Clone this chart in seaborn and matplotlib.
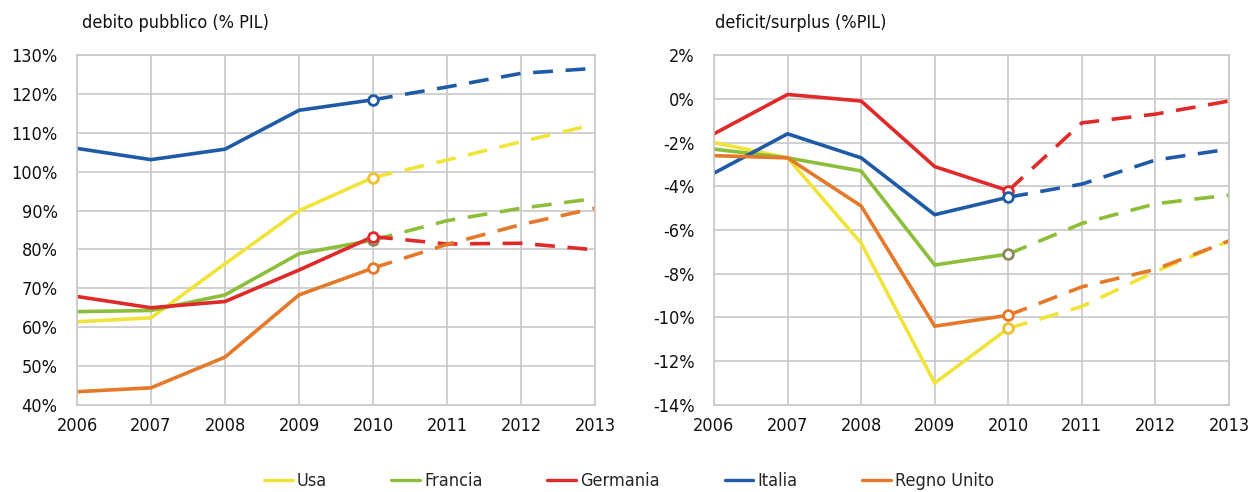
import numpy as np
import pandas as pd
import matplotlib
matplotlib.use("Agg")
import matplotlib.pyplot as plt
import seaborn as sns
from matplotlib.ticker import FuncFormatter, MultipleLocator
from matplotlib.lines import Line2D

sns.set_style("white")
plt.rcParams['font.family'] = ['DejaVu Sans']
plt.rcParams['font.stretch'] = 'condensed'

anni = [2006, 2007, 2008, 2009, 2010, 2011, 2012, 2013]
paesi = ['Usa', 'Francia', 'Germania', 'Italia', 'Regno Unito']
colori = ['#F0E43A', '#8DBE3A', '#E02A2A', '#1F5AA6', '#E5792A']
bordo_cerchio = ['#F0C030', '#8A8A5A', '#E02A2A', '#1F5AA6', '#E5792A']

# debito pubblico (% PIL)
debito_usa = [61.4, 62.4, 76.3, 90.0, 98.5, 103.0, 107.7, 112.2]
debito_francia = [64.0, 64.3, 68.3, 78.9, 82.4, 87.4, 90.6, 93.1]
debito_germania = [67.9, 65.0, 66.6, 74.7, 83.3, 81.4, 81.6, 79.9]
debito_italia = [106.0, 103.1, 105.8, 115.8, 118.5, 121.8, 125.3, 126.6]
debito_regno_unito = [43.4, 44.4, 52.3, 68.3, 75.2, 81.3, 86.4, 90.6]

# deficit/surplus (% PIL)
deficit_usa = [-2.0, -2.7, -6.6, -13.0, -10.5, -9.5, -7.9, -6.5]
deficit_francia = [-2.3, -2.7, -3.3, -7.6, -7.1, -5.7, -4.8, -4.4]
deficit_germania = [-1.6, 0.2, -0.1, -3.1, -4.2, -1.1, -0.7, -0.1]
deficit_italia = [-3.4, -1.6, -2.7, -5.3, -4.5, -3.9, -2.8, -2.3]
deficit_regno_unito = [-2.6, -2.7, -4.9, -10.4, -9.9, -8.6, -7.8, -6.5]

debito = [debito_usa, debito_francia, debito_germania, debito_italia, debito_regno_unito]
deficit = [deficit_usa, deficit_francia, deficit_germania, deficit_italia, deficit_regno_unito]

fig = plt.figure(figsize=(12.5, 4.92), dpi=100)
ax1 = fig.add_axes([0.0616, 0.177, 0.4144, 0.711])
ax2 = fig.add_axes([0.5712, 0.177, 0.4120, 0.711])

def disegna(ax, serie):
    for nome, valori, col, bc in zip(paesi, serie, colori, bordo_cerchio):
        df = pd.DataFrame({'anno': anni, 'valore': valori})
        storico = df[df.anno <= 2010]
        previsione = df[df.anno >= 2010]
        sns.lineplot(data=storico, x='anno', y='valore', ax=ax, color=col,
                     linewidth=2.6, solid_joinstyle='miter')
        sns.lineplot(data=previsione, x='anno', y='valore', ax=ax, color=col,
                     linewidth=2.6, linestyle=(0, (5.5, 3.5)))
        ultimo = df[df.anno == 2010]
        ax.plot(ultimo.anno, ultimo.valore, 'o', ms=7, mfc='white', mec=bc,
                mew=2.0, zorder=5)

def stile(ax):
    ax.set_xlim(2006, 2013)
    ax.xaxis.set_major_locator(MultipleLocator(1))
    ax.grid(True, color='#C8C8C8', linewidth=1.2)
    for s in ax.spines.values():
        s.set_color('#C8C8C8')
        s.set_linewidth(1.2)
    ax.set_xlabel('')
    ax.set_ylabel('')
    ax.tick_params(axis='both', labelsize=13, length=0, colors='#111111')
    ax.tick_params(axis='y', pad=14)
    ax.tick_params(axis='x', pad=9)
    ax.set_axisbelow(True)

disegna(ax1, debito)
stile(ax1)
ax1.set_ylim(40, 130)
ax1.yaxis.set_major_locator(MultipleLocator(10))
ax1.yaxis.set_major_formatter(FuncFormatter(lambda v, p: f'{v:.0f}%'))

disegna(ax2, deficit)
stile(ax2)
ax2.set_ylim(-14, 2)
ax2.yaxis.set_major_locator(MultipleLocator(2))
ax2.yaxis.set_major_formatter(FuncFormatter(lambda v, p: f'{v:.0f}%'.replace('\u2212', '-')))

fig.text(0.066, 0.953, 'debito pubblico (% PIL)', fontsize=13, va='center', color='#111111')
fig.text(0.572, 0.953, 'deficit/surplus (%PIL)', fontsize=13, va='center', color='#111111')

maniglie = [Line2D([0], [0], color=c, linewidth=2.4) for c in colori]
fig.legend(maniglie, paesi, loc='center', bbox_to_anchor=(0.503, 0.022), ncol=5,
           frameon=False, fontsize=13, handlelength=1.6, handletextpad=0.2,
           columnspacing=3.6)

fig.savefig('out.png', dpi=100)
